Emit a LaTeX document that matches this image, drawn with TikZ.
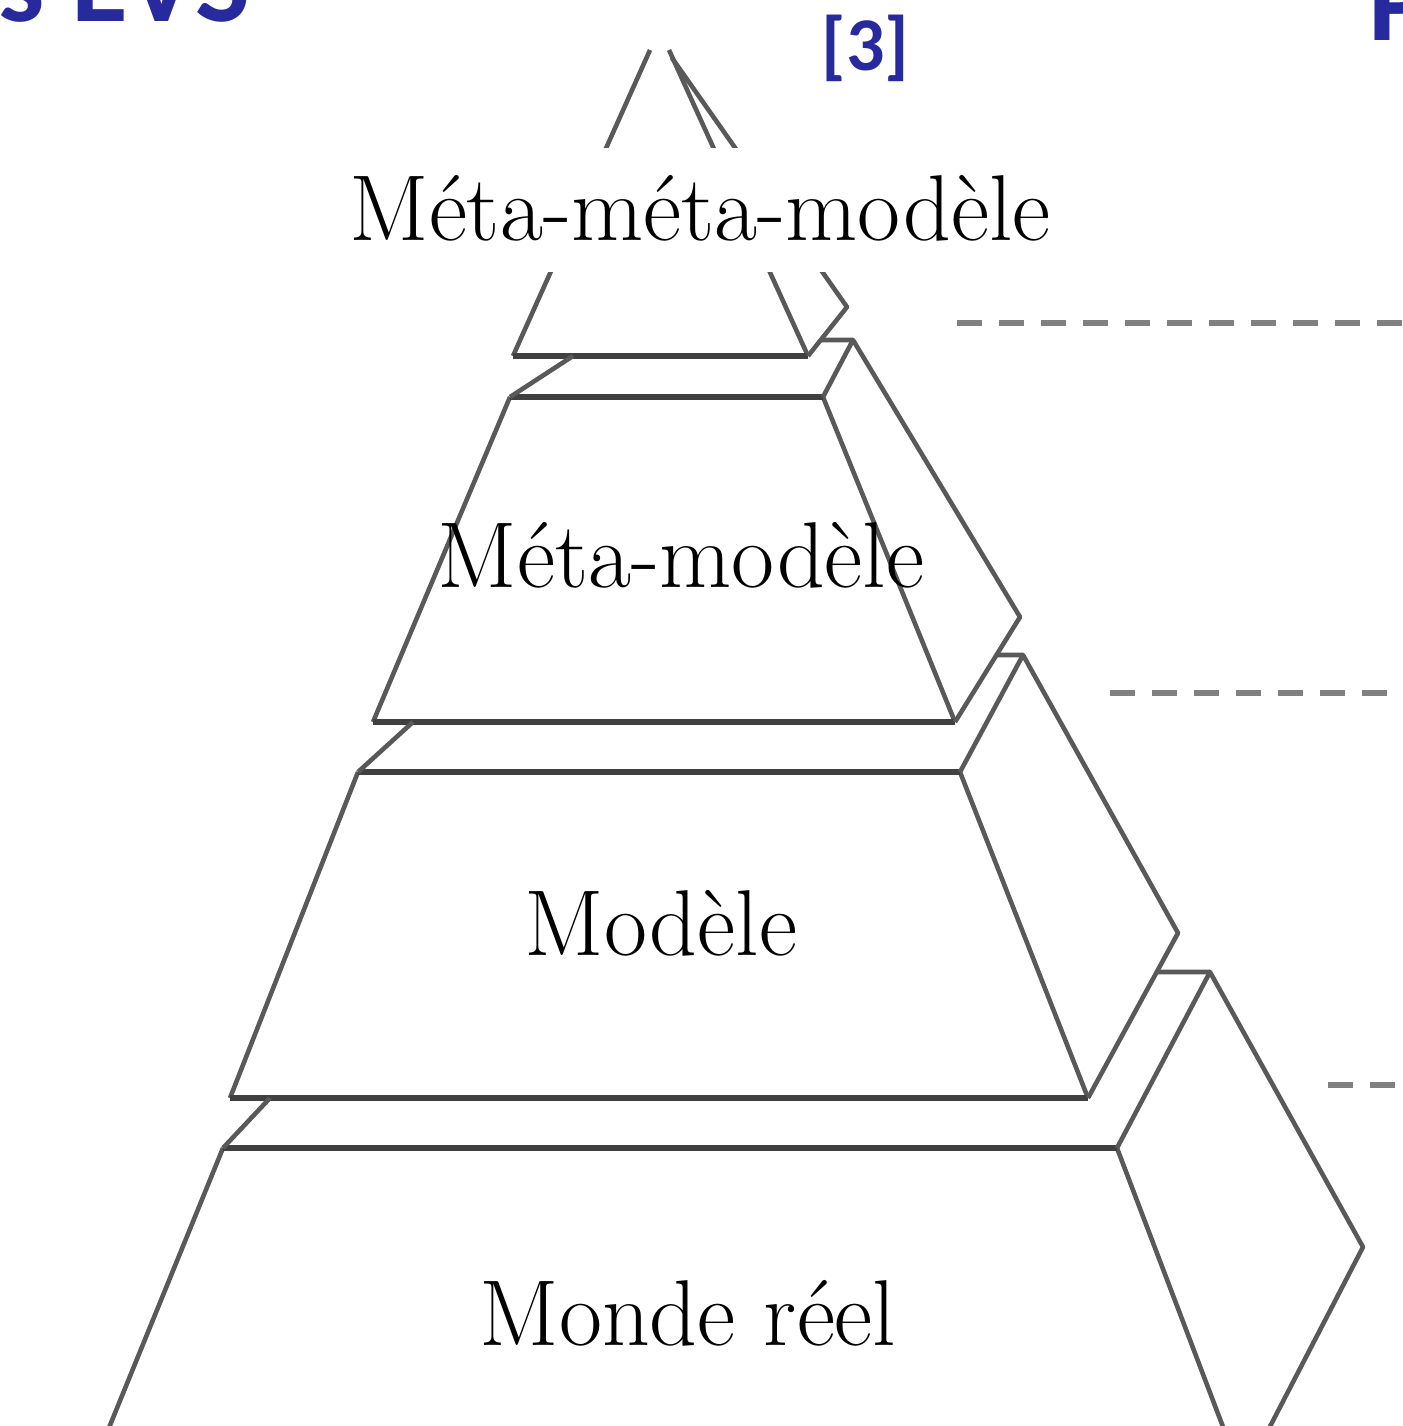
\documentclass[tikz,border=0pt]{standalone}
\usepackage{fontspec}
\newfontfamily\slidefont{Carlito}
\definecolor{slideblue}{RGB}{38,42,156}

\begin{document}
\begin{tikzpicture}[
    x=0.01cm, y=-0.01cm,
    edge/.style={draw=black!65, line width=1.3pt, line join=round},
    rim/.style={draw=black!75, line width=1.8pt},
    level/.style={font=\fontsize{26.6}{32}\selectfont, inner sep=0pt, anchor=base},
    guide/.style={draw=black!50, line width=1.7pt, dash pattern=on 0.25cm off 0.17cm},
    heading/.style={font=\slidefont\bfseries\fontsize{33}{40}\selectfont, text=slideblue, inner sep=0pt, anchor=base west}
]
    \useasboundingbox (0,0) rectangle (1403,1426);
    \clip (0,0) rectangle (1403,1426);

    % Corners - level 0 is the tip, level 3 the base
    \coordinate (t0l) at (650,50);   \coordinate (t0r) at (669,50);
    \coordinate (b0l) at (513,356);  \coordinate (b0r) at (808,356);
    \coordinate (p0) at (672,58);    \coordinate (k0) at (847,307);

    \coordinate (t1l) at (510,397);  \coordinate (t1r) at (823,397);
    \coordinate (b1l) at (373,722);  \coordinate (b1r) at (955,722);
    \coordinate (p1) at (853,340);   \coordinate (k1) at (1020,617);

    \coordinate (t2l) at (358,772);  \coordinate (t2r) at (960,772);
    \coordinate (b2l) at (230,1098); \coordinate (b2r) at (1088,1098);
    \coordinate (p2) at (1023,655);  \coordinate (k2) at (1178,933);

    \coordinate (t3l) at (223,1148); \coordinate (t3r) at (1117,1148);
    \coordinate (b3l) at (104,1440); \coordinate (b3r) at (1228,1440);
    \coordinate (p3) at (1210,972);  \coordinate (k3) at (1363,1247);
    \coordinate (e3) at (1263,1440);

    % slab joints between two levels
    \coordinate (s1l) at (573,356);  \coordinate (s1r) at (821,340);
    \coordinate (s2l) at (413,722);  \coordinate (s2r) at (997,655);
    \coordinate (s3l) at (270,1098); \coordinate (s3r) at (1157,972);

    % Front faces
    \draw[edge] (t0l) -- (b0l) (b0r) -- (t0r);
    \draw[edge] (t1l) -- (b1l) (b1r) -- (t1r);
    \draw[edge] (t2l) -- (b2l) (b2r) -- (t2r);
    \draw[edge] (t3l) -- (b3l) (b3r) -- (t3r);

    % Rims
    \draw[rim] (b0l) -- (b0r);
    \draw[rim] (t1l) -- (t1r) (b1l) -- (b1r);
    \draw[rim] (t2l) -- (t2r) (b2l) -- (b2r);
    \draw[rim] (t3l) -- (t3r);

    % Side faces
    \draw[edge] (p0) -- (k0) -- (b0r);
    \draw[edge] (t1r) -- (p1) -- (k1) -- (b1r);
    \draw[edge] (t2r) -- (p2) -- (k2) -- (b2r);
    \draw[edge] (t3r) -- (p3) -- (k3) -- (e3);

    % Slabs
    \draw[edge] (s1l) -- (t1l) (s1r) -- (p1);
    \draw[edge] (s2l) -- (t2l) (s2r) -- (p2);
    \draw[edge] (s3l) -- (t3l) (s3r) -- (p3);

    % Guides on the right
    \draw[guide] (957,323) -- (1420,323);
    \draw[guide] (1110,693) -- (1420,693);
    \draw[guide] (1328,1085) -- (1420,1085);

    % Level names
    \node[level, fill=white, text height=0.92cm, text depth=0.32cm, inner xsep=0.12cm] (metameta) at (700,240) {Méta-méta-modèle};
    \node[level] (meta) at (681,587) {Méta-modèle};
    \node[level] (model) at (661,955) {Modèle};
    \node[level] (world) at (688,1345) {Monde réel};

    % Slide text
    \node[heading] (title) at (-2,21) {s EVS};
    \node[heading, font=\slidefont\bfseries\fontsize{21.6}{26}\selectfont] (cite) at (821,70) {[3]};
    \node[heading] (next) at (1368,40) {P};

\end{tikzpicture}
\end{document}
